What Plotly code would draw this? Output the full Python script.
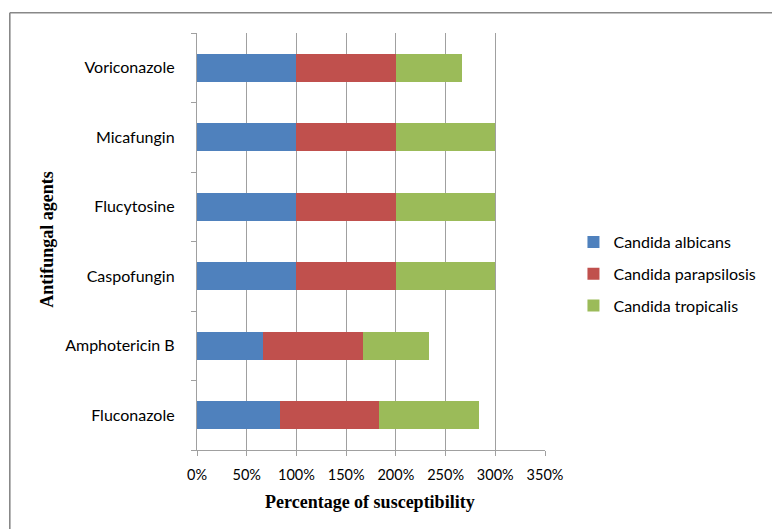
import plotly.graph_objects as go

# Antifungal agents (bottom to top) and susceptibility per species (%)
agents = ["Fluconazole", "Amphotericin B", "Caspofungin", "Flucytosine", "Micafungin", "Voriconazole"]
albicans = [83.3, 66.7, 100, 100, 100, 100]
parapsilosis = [100, 100, 100, 100, 100, 100]
tropicalis = [100, 66.7, 100, 100, 100, 66.7]

series = [
    ("Candida albicans", albicans, "#4F81BD"),
    ("Candida parapsilosis", parapsilosis, "#C0504D"),
    ("Candida tropicalis", tropicalis, "#9BBB59"),
]

tick_vals = [0, 50, 100, 150, 200, 250, 300, 350]
tick_text = ["0%", "50%", "100%", "150%", "200%", "250%", "300%", "350%"]

cat_font = dict(family="Lato, Open Sans, sans-serif", size=16, color="#000000")
tick_font = dict(family="Lato, Open Sans, sans-serif", size=14.5, color="#000000")
title_font = dict(family="Liberation Serif, Times New Roman, serif", size=18, color="#000000")

fig = go.Figure()
for i, (name, vals, color) in enumerate(series):
    fig.add_trace(go.Bar(
        y=agents, x=vals, name=name, orientation="h",
        marker=dict(color=color, line=dict(width=0)),
        legendgroup=f"g{i}",
    ))

L, R, T, B = 197, 225.5, 33, 79
W, H = 772, 529
pw = W - L - R
ph = H - T - B


def px_x(x):
    return (x - L) / pw


def px_y(y):
    return (H - B - y) / ph


fig.update_layout(
    width=W, height=H,
    margin=dict(l=L, r=R, t=T, b=B, pad=0),
    barmode="stack",
    bargap=0.6,
    plot_bgcolor="white",
    paper_bgcolor="white",
    showlegend=True,
    legend=dict(
        x=px_x(574), y=px_y(225), xanchor="left", yanchor="top",
        font=cat_font, tracegroupgap=8, traceorder="grouped",
        bgcolor="rgba(0,0,0,0)",
    ),
    xaxis=dict(
        range=[0, 350], tickvals=tick_vals, ticktext=tick_text,
        showgrid=True, gridcolor="#A0A0A0", gridwidth=1.3,
        showline=True, linecolor="#A0A0A0", linewidth=1.3,
        ticks="outside", ticklen=5, tickcolor="#A0A0A0", tickwidth=1.3,
        tickfont=tick_font, ticklabelstandoff=6,
        zeroline=False, fixedrange=True,
    ),
    yaxis=dict(
        categoryorder="array", categoryarray=agents,
        showgrid=False, showline=True, linecolor="#A0A0A0", linewidth=1.3,
        ticks="outside", ticklen=5, tickcolor="#A0A0A0", tickwidth=1.3,
        tickson="boundaries", tickfont=cat_font,
        ticklabelstandoff=18, fixedrange=True,
    ),
    annotations=[
        dict(text="<b>Percentage of susceptibility</b>", xref="paper", yref="paper",
             x=px_x(371), y=px_y(502), xanchor="center", yanchor="middle",
             showarrow=False, font=title_font),
        dict(text="<b>Antifungal agents</b>", xref="paper", yref="paper",
             x=px_x(46), y=px_y(239), xanchor="center", yanchor="middle",
             textangle=-90, showarrow=False, font=title_font),
    ],
    shapes=[
        dict(type="line", xref="paper", yref="paper",
             x0=px_x(9), x1=px_x(W + 5), y0=px_y(12.7), y1=px_y(12.7),
             line=dict(color="#888888", width=1.6)),
        dict(type="line", xref="paper", yref="paper",
             x0=px_x(9), x1=px_x(9), y0=px_y(12.7), y1=px_y(H + 5),
             line=dict(color="#888888", width=1.6)),
    ],
)

fig.write_html("out.html")
